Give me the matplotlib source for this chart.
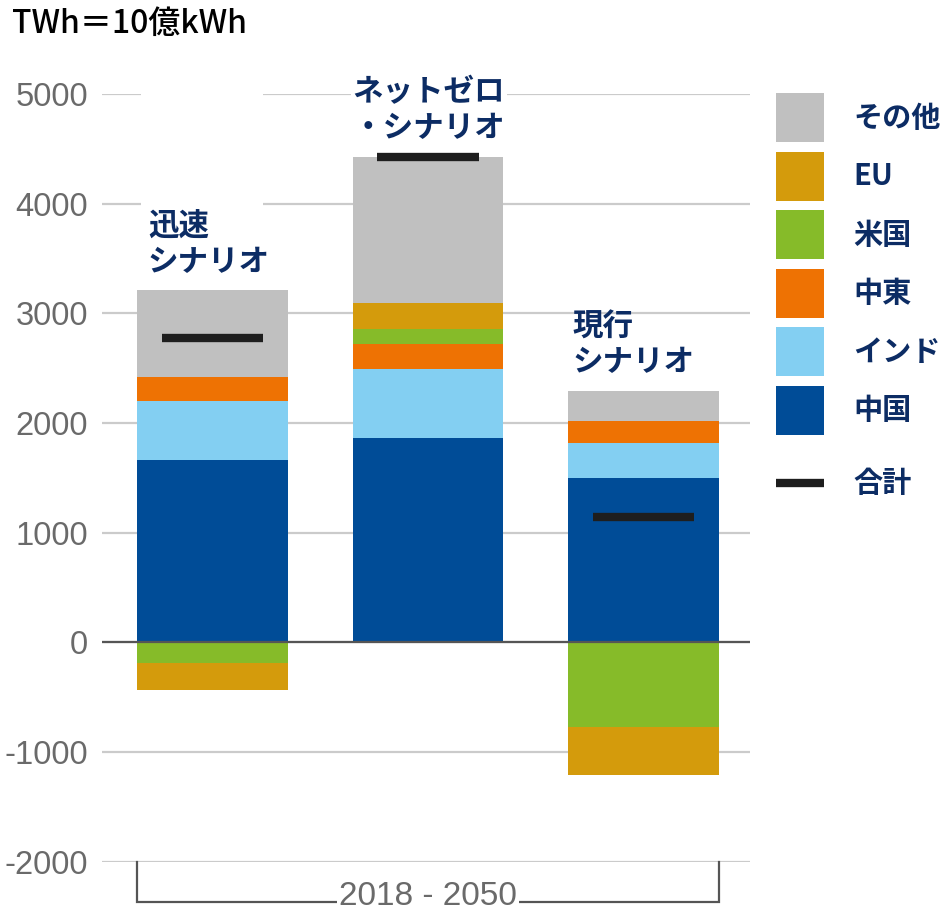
import matplotlib
matplotlib.use("Agg")
import matplotlib.pyplot as plt
from matplotlib.patches import Rectangle
from matplotlib.lines import Line2D
import numpy as np

plt.rcParams['font.family'] = ['Noto Sans CJK JP', 'DejaVu Sans']

# データ (TWh, 2018-2050 の変化)
scenarios = ["迅速\nシナリオ", "ネットゼロ\n・シナリオ", "現行\nシナリオ"]
china = [1660, 1860, 1500]
india = [540, 635, 320]
mideast = [220, 225, 200]
usa = [-190, 135, -770]
eu = [-240, 240, -435]
others = [790, 1335, 275]
totals = [2775, 4430, 1140]

series_names = ["中国", "インド", "中東", "米国", "EU", "その他"]
series_vals = [china, india, mideast, usa, eu, others]
colors = ["#004c97", "#83cff2", "#ee7203", "#86bb29", "#d49b0c", "#c0c0c0"]
total_color = "#1e1e1e"
navy = "#0c2c64"
gray_txt = "#6a6a6a"

yticks = [-2000, -1000, 0, 1000, 2000, 3000, 4000, 5000]
label_dx = [-0.30, -0.35, -0.33]

fig = plt.figure(figsize=(9.47, 9.11), dpi=100)
ax = fig.add_axes([102 / 947, 49.3 / 911, 648 / 947, 767.7 / 911])

x = np.arange(len(scenarios))
w = 0.70

# 積み上げ (正は上へ、負は下へ)
pos_base = np.zeros(len(x))
neg_base = np.zeros(len(x))
for name, vals, c in zip(series_names, series_vals, colors):
    vals = np.array(vals, dtype=float)
    bottoms = np.where(vals >= 0, pos_base, neg_base)
    ax.bar(x, vals, w, bottom=bottoms, color=c, zorder=2, linewidth=0)
    pos_base += np.where(vals >= 0, vals, 0)
    neg_base += np.where(vals < 0, vals, 0)

ax.hlines(totals, x - 0.235, x + 0.235, color=total_color, lw=6, zorder=3,
          capstyle='butt')

ax.set_xlim(-0.513, 2.494)
ax.set_ylim(-2000, 5000)
ax.set_yticks(yticks)
ax.set_yticklabels([str(v) for v in yticks], family='Liberation Sans',
                   fontsize=23.5, color=gray_txt)
ax.tick_params(axis='y', length=0, pad=10)
ax.set_xticks([])
for s in ax.spines.values():
    s.set_visible(False)
ax.set_axisbelow(True)
ax.yaxis.grid(True, color="#cbcbcb", lw=1.6, zorder=0.5)
ax.axhline(0, color="#555555", lw=1.6, zorder=2.5)

# 元図にある白い抜け
ax.add_patch(Rectangle((-0.332, 3900), 0.566, 1200, facecolor='white',
                       edgecolor='none', zorder=1, clip_on=False))

# シナリオ名
tops = np.maximum(pos_base, totals)
for i, lab in enumerate(scenarios):
    ax.annotate(lab, (x[i] + label_dx[i], tops[i]), xytext=(0, 9),
                textcoords='offset points', ha='left', va='bottom',
                fontsize=22, fontweight='bold', color=navy,
                linespacing=1.15, zorder=4,
                bbox=dict(facecolor='white', edgecolor='none', pad=1) if i == 1 else None)

# 2018 - 2050 の括弧
by = -2365
ax.plot([x[0] - w / 2, x[0] - w / 2, x[-1] + w / 2, x[-1] + w / 2],
        [-2000, by, by, -2000], color="#555555", lw=1.6, clip_on=False, zorder=3,
        solid_joinstyle='miter')
ax.text(x[1], by + 45, "2018 - 2050", ha='center', va='center',
        family='Liberation Sans', fontsize=24, color=gray_txt, zorder=4,
        bbox=dict(facecolor='white', edgecolor='none', pad=1.5), clip_on=False)

# 単位
fig.text(12 / 947, 1 - 24 / 911, "TWh＝10億kWh", ha='left', va='center',
         fontsize=23, fontweight='medium', color='black')

# 凡例 (手描き)
leg_items = list(zip(series_names, colors))[::-1]
for j, (name, c) in enumerate(leg_items):
    top = 93 + j * 58.6
    fig.patches.append(Rectangle((776 / 947, 1 - (top + 49) / 911), 48 / 947, 49 / 911,
                                 transform=fig.transFigure, facecolor=c,
                                 edgecolor='none'))
    fig.text(853 / 947, 1 - (top + 24.5) / 911, name, ha='left', va='center',
             fontsize=21, fontweight='bold', color=navy)
ly = 1 - 483 / 911
fig.lines.append(Line2D([776 / 947, 824 / 947], [ly, ly], transform=fig.transFigure,
                        color=total_color, lw=6, solid_capstyle='butt'))
fig.text(853 / 947, ly, "合計", ha='left', va='center',
         fontsize=21, fontweight='bold', color=navy)

fig.savefig("out.png", dpi=100)
